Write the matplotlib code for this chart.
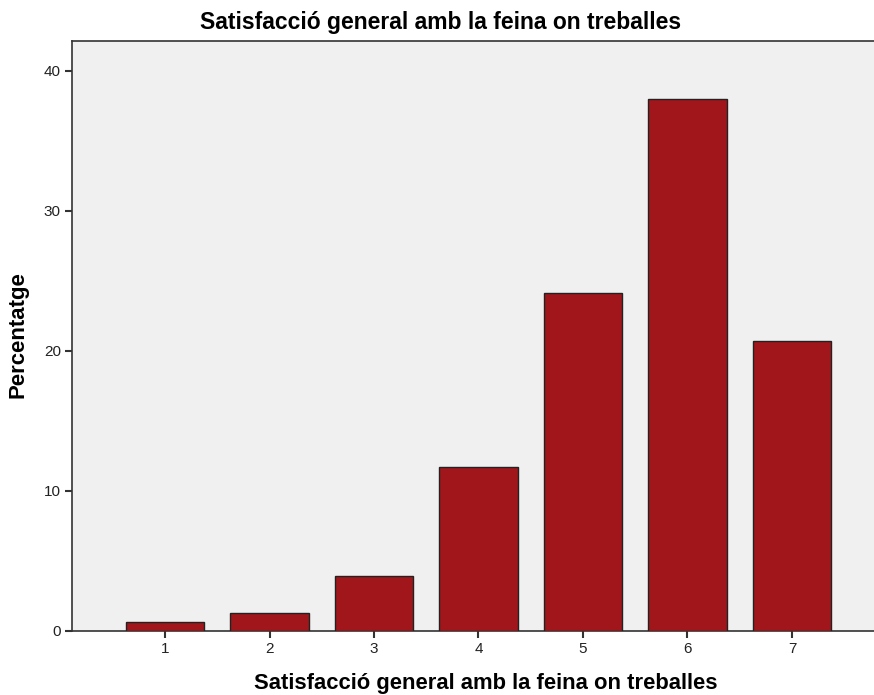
import numpy as np
import matplotlib.pyplot as plt

plt.rcParams['font.family'] = ['Liberation Sans', 'DejaVu Sans']

# data
categories = [1, 2, 3, 4, 5, 6, 7]
percent = [0.6, 1.3, 3.9, 11.7, 24.1, 38.0, 20.7]
y_ticks = [0, 10, 20, 30, 40]

fig = plt.figure(figsize=(8.74, 6.95), dpi=100)
ax = fig.add_axes([0.0824, 0.0925, 0.9176, 0.8485])
ax.set_facecolor('#f0f0f0')

ax.bar(categories, percent, width=0.755, color='#a0161a',
       edgecolor='#222222', linewidth=1.0, zorder=3)

ax.set_xlim(0.11, 7.785)
ax.set_ylim(0, 42.14)
ax.set_xticks(categories)
ax.set_xticklabels([str(c) for c in categories])
ax.set_yticks(y_ticks)

ax.spines['right'].set_visible(False)
for s in ['left', 'bottom', 'top']:
    ax.spines[s].set_color('#333333')
    ax.spines[s].set_linewidth(1.2)

ax.tick_params(axis='both', direction='out', length=5, width=1.5,
               color='#333333', labelsize=11, labelcolor='#222222', pad=3)

# title sits centred on the figure, not on the axes
fig.text(441 / 874, 1 - 22 / 695, 'Satisfacció general amb la feina on treballes',
         fontsize=16.5, fontweight='bold', ha='center', va='center')
ax.set_xlabel('Satisfacció general amb la feina on treballes', fontsize=15.8,
              fontweight='bold')
ax.xaxis.set_label_coords((486 - 72) / 802, -(683 - 630.7) / 588, transform=ax.transAxes)
ax.xaxis.label.set_va('center')
ax.set_ylabel('Percentatge', fontsize=15.9, fontweight='bold')
ax.yaxis.set_label_coords(-(72 - 18) / 802, (630.7 - 335) / 588, transform=ax.transAxes)
ax.yaxis.label.set_va('center')

fig.savefig('out.png', dpi=100)
